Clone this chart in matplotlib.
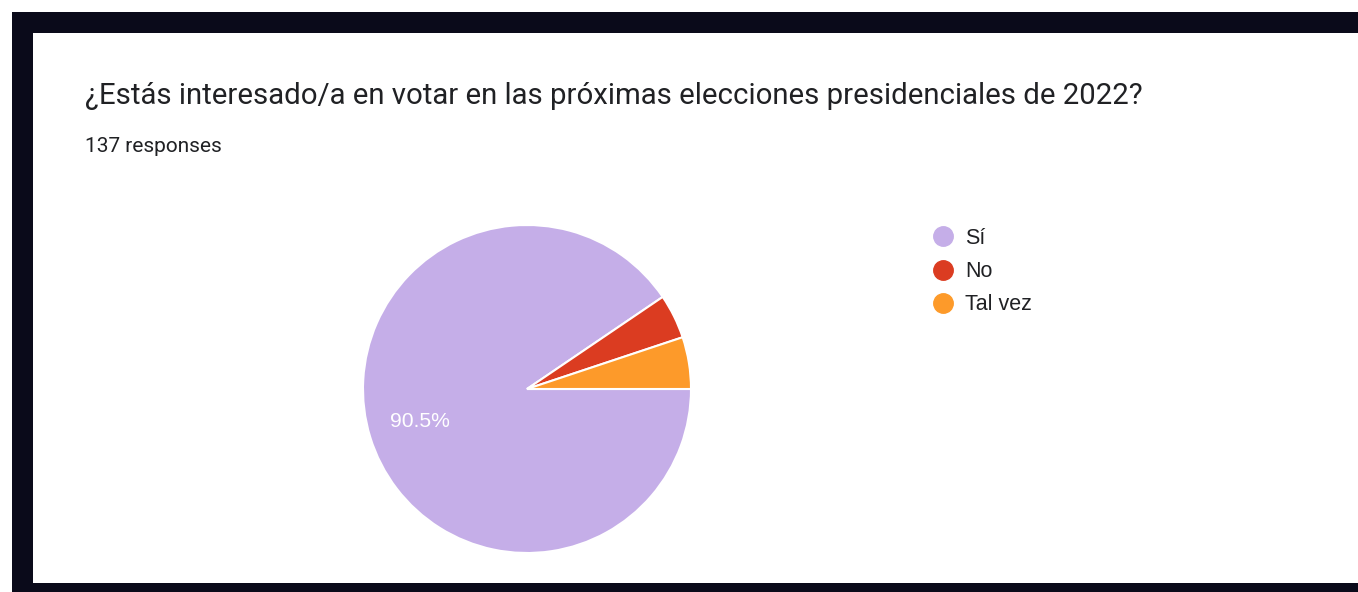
import matplotlib.pyplot as plt
from matplotlib.patches import Rectangle
from matplotlib.lines import Line2D

#============ data ============
labels = ['Sí', 'No', 'Tal vez']
counts = [124, 6, 7]
colors = ['#c5aee8', '#db3c21', '#fd9a2a']
title = '¿Estás interesado/a en votar en las próximas elecciones presidenciales de 2022?'
subtitle = '137 responses'
#==============================

W, H = 1358, 592
fig = plt.figure(figsize=(W / 100, H / 100), dpi=100, facecolor='white')

# dark frame and white card (screenshot look)
fig.patches.append(Rectangle((12 / W, 0), 1 - 12 / W, (H - 12) / H,
                             transform=fig.transFigure, facecolor='#0a0a1a',
                             edgecolor='none', zorder=0))
fig.patches.append(Rectangle((33 / W, 9 / H), 1 - 33 / W, (H - 33 - 9) / H,
                             transform=fig.transFigure, facecolor='white',
                             edgecolor='none', zorder=1))

fig.text(85 / W, (H - 104) / H, title, fontsize=21.2, color='#202124',
         family='Roboto', va='baseline', ha='left')
fig.text(85 / W, (H - 152) / H, subtitle, fontsize=15, color='#202124',
         family='Roboto', va='baseline', ha='left')

# pie, center (527, 389) radius 164 px
cx, cy, r = 527, 389, 164
ax = fig.add_axes([(cx - r) / W, (H - cy - r) / H, 2 * r / W, 2 * r / H])
ax.set_zorder(2)
wedges, texts, autotexts = ax.pie(
    counts, colors=colors, startangle=0, counterclock=False,
    autopct=lambda p: f'{p:.1f}%' if p > 10 else '', pctdistance=0.68,
    wedgeprops=dict(edgecolor='white', linewidth=1.5),
    textprops=dict(color='white', fontsize=15.2, family='Liberation Sans'))
ax.set_xlim(-1, 1)
ax.set_ylim(-1, 1)
ax.set_aspect('equal')
ax.axis('off')

# legend on the right, circle markers
handles = [Line2D([], [], marker='o', linestyle='none', markersize=14,
                  markerfacecolor=c, markeredgecolor=c) for c in colors]
leg = fig.legend(handles, labels, loc='upper left',
                 bbox_to_anchor=(932 / W, (H - 228) / H),
                 frameon=False, handletextpad=0.53,
                 labelspacing=0.56, borderaxespad=0, borderpad=0,
                 handlelength=1.0,
                 prop=dict(family='Liberation Sans', size=15.5))
for t in leg.get_texts():
    t.set_color('#202124')

fig.savefig('out.png', dpi=100)
